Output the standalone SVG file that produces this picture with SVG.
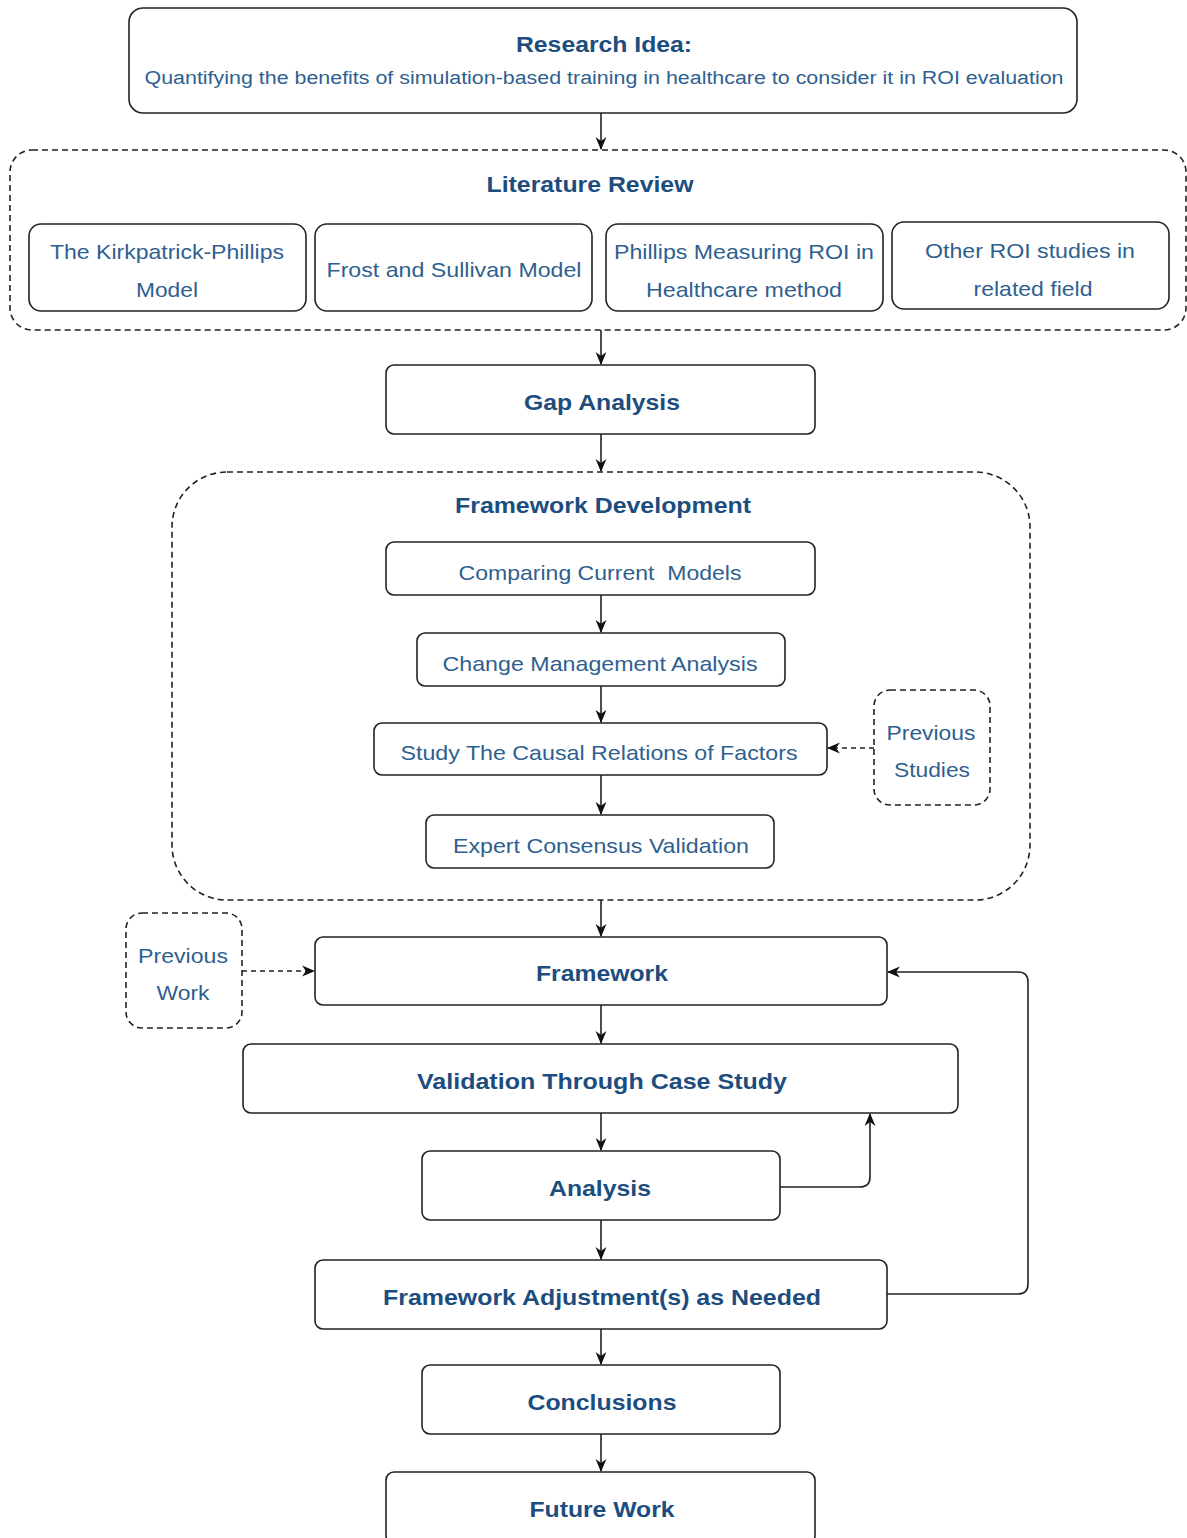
<svg xmlns="http://www.w3.org/2000/svg" width="1187" height="1538" viewBox="0 0 1187 1538">
<defs>
<marker id="ah" viewBox="0 0 12 12" refX="11" refY="6" markerWidth="13" markerHeight="13" markerUnits="userSpaceOnUse" orient="auto">
<path d="M0,1 L12,6 L0,11 L3.5,6 Z" fill="#111"/>
</marker>
<style>
.box{fill:#fff;stroke:#222;stroke-width:1.6}
.dash{fill:none;stroke:#222;stroke-width:1.6;stroke-dasharray:6 4}
.dashbox{fill:#fff;stroke:#222;stroke-width:1.6;stroke-dasharray:6 4}
.b{font-family:"Liberation Sans",Arial,sans-serif;font-weight:bold;fill:#1d4d7e;text-anchor:middle;font-size:22px}
.r{font-family:"Liberation Sans",Arial,sans-serif;fill:#2f5f8f;text-anchor:middle;font-size:21px}
.c{fill:none;stroke:#222;stroke-width:1.6}
.cd{fill:none;stroke:#222;stroke-width:1.6;stroke-dasharray:5 4}
</style>
</defs>
<rect width="1187" height="1538" fill="#fff"/>

<g id="research-idea">
<rect class="box" x="129" y="8" width="948" height="105" rx="14"/>
<text class="b" x="604" y="52" textLength="176" lengthAdjust="spacingAndGlyphs">Research Idea:</text>
<text class="r" x="604" y="84" style="font-size:18px" textLength="919" lengthAdjust="spacingAndGlyphs">Quantifying the benefits of simulation-based training in healthcare to consider it in ROI evaluation</text>
</g>

<g id="literature-review">
<rect class="dash" x="10" y="150" width="1176" height="180" rx="22"/>
<text class="b" x="590" y="192" textLength="207" lengthAdjust="spacingAndGlyphs">Literature Review</text>
</g>
<g id="kirkpatrick">
<rect class="box" x="29" y="224" width="277" height="87" rx="12"/>
<text class="r" x="167" y="259" textLength="234" lengthAdjust="spacingAndGlyphs">The Kirkpatrick-Phillips</text>
<text class="r" x="167" y="297" textLength="62" lengthAdjust="spacingAndGlyphs">Model</text>
</g>
<g id="frost">
<rect class="box" x="315" y="224" width="277" height="87" rx="12"/>
<text class="r" x="454" y="277" textLength="255" lengthAdjust="spacingAndGlyphs">Frost and Sullivan Model</text>
</g>
<g id="phillips">
<rect class="box" x="606" y="224" width="277" height="87" rx="12"/>
<text class="r" x="744" y="259" textLength="260" lengthAdjust="spacingAndGlyphs">Phillips Measuring ROI in</text>
<text class="r" x="744" y="297" textLength="196" lengthAdjust="spacingAndGlyphs">Healthcare method</text>
</g>
<g id="other-roi">
<rect class="box" x="892" y="222" width="277" height="87" rx="12"/>
<text class="r" x="1030" y="258" textLength="210" lengthAdjust="spacingAndGlyphs">Other ROI studies in</text>
<text class="r" x="1033" y="296" textLength="119" lengthAdjust="spacingAndGlyphs">related field</text>
</g>

<g id="gap-analysis">
<rect class="box" x="386" y="365" width="429" height="69" rx="8"/>
<text class="b" x="602" y="410" textLength="156" lengthAdjust="spacingAndGlyphs">Gap Analysis</text>
</g>

<g id="framework-development">
<rect class="dash" x="172" y="472" width="858" height="428" rx="55"/>
<text class="b" x="603" y="513" textLength="296" lengthAdjust="spacingAndGlyphs">Framework Development</text>
</g>
<g id="comparing">
<rect class="box" x="386" y="542" width="429" height="53" rx="8"/>
<text class="r" x="600" y="580" style="white-space:pre" textLength="283" lengthAdjust="spacingAndGlyphs">Comparing Current  Models</text>
</g>
<g id="change-management">
<rect class="box" x="417" y="633" width="368" height="53" rx="8"/>
<text class="r" x="600" y="671" textLength="315" lengthAdjust="spacingAndGlyphs">Change Management Analysis</text>
</g>
<g id="causal">
<rect class="box" x="374" y="723" width="453" height="52" rx="8"/>
<text class="r" x="599" y="760" textLength="397" lengthAdjust="spacingAndGlyphs">Study The Causal Relations of Factors</text>
</g>
<g id="expert">
<rect class="box" x="426" y="815" width="348" height="53" rx="8"/>
<text class="r" x="601" y="853" textLength="296" lengthAdjust="spacingAndGlyphs">Expert Consensus Validation</text>
</g>
<g id="previous-studies">
<rect class="dashbox" x="874" y="690" width="116" height="115" rx="16"/>
<text class="r" x="931" y="740" textLength="89" lengthAdjust="spacingAndGlyphs">Previous</text>
<text class="r" x="932" y="777" textLength="76" lengthAdjust="spacingAndGlyphs">Studies</text>
</g>

<g id="framework">
<rect class="box" x="315" y="937" width="572" height="68" rx="8"/>
<text class="b" x="602" y="981" textLength="132" lengthAdjust="spacingAndGlyphs">Framework</text>
</g>
<g id="previous-work">
<rect class="dashbox" x="126" y="913" width="116" height="115" rx="16"/>
<text class="r" x="183" y="963" textLength="90" lengthAdjust="spacingAndGlyphs">Previous</text>
<text class="r" x="183" y="1000" textLength="53" lengthAdjust="spacingAndGlyphs">Work</text>
</g>
<g id="validation">
<rect class="box" x="243" y="1044" width="715" height="69" rx="8"/>
<text class="b" x="602" y="1089" textLength="370" lengthAdjust="spacingAndGlyphs">Validation Through Case Study</text>
</g>
<g id="analysis">
<rect class="box" x="422" y="1151" width="358" height="69" rx="8"/>
<text class="b" x="600" y="1196" textLength="102" lengthAdjust="spacingAndGlyphs">Analysis</text>
</g>
<g id="adjustment">
<rect class="box" x="315" y="1260" width="572" height="69" rx="8"/>
<text class="b" x="602" y="1305" textLength="438" lengthAdjust="spacingAndGlyphs">Framework Adjustment(s) as Needed</text>
</g>
<g id="conclusions">
<rect class="box" x="422" y="1365" width="358" height="69" rx="8"/>
<text class="b" x="602" y="1410" textLength="149" lengthAdjust="spacingAndGlyphs">Conclusions</text>
</g>
<g id="future-work">
<rect class="box" x="386" y="1472" width="429" height="72" rx="8"/>
<text class="b" x="602" y="1517" textLength="145" lengthAdjust="spacingAndGlyphs">Future Work</text>
</g>

<g id="connectors">
<path class="c" d="M601,113 V149" marker-end="url(#ah)"/>
<path class="c" d="M601,330 V364" marker-end="url(#ah)"/>
<path class="c" d="M601,434 V471" marker-end="url(#ah)"/>
<path class="c" d="M601,595 V632" marker-end="url(#ah)"/>
<path class="c" d="M601,686 V722" marker-end="url(#ah)"/>
<path class="c" d="M601,775 V814" marker-end="url(#ah)"/>
<path class="c" d="M601,900 V936" marker-end="url(#ah)"/>
<path class="c" d="M601,1005 V1043" marker-end="url(#ah)"/>
<path class="c" d="M601,1113 V1150" marker-end="url(#ah)"/>
<path class="c" d="M601,1220 V1259" marker-end="url(#ah)"/>
<path class="c" d="M601,1329 V1364" marker-end="url(#ah)"/>
<path class="c" d="M601,1434 V1471" marker-end="url(#ah)"/>
<path class="cd" d="M874,748 H828" marker-end="url(#ah)"/>
<path class="cd" d="M242,971 H314" marker-end="url(#ah)"/>
<path class="c" d="M780,1187 H860 Q870,1187 870,1177 V1114" marker-end="url(#ah)"/>
<path class="c" d="M887,1294 H1018 Q1028,1294 1028,1284 V982 Q1028,972 1018,972 H888" marker-end="url(#ah)"/>
</g>
</svg>
